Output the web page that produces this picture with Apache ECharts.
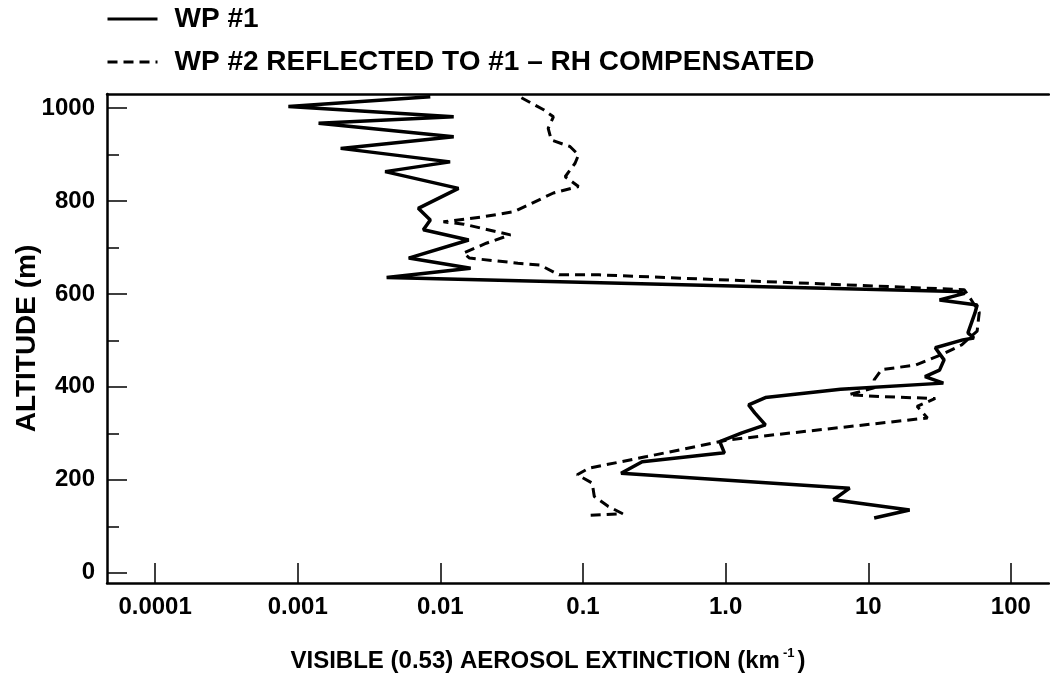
<!DOCTYPE html>
<html>
<head>
<meta charset="utf-8">
<script src="https://cdn.jsdelivr.net/npm/echarts@6/dist/echarts.min.js"></script>
<style>
html, body { margin: 0; padding: 0; background: #fff; }
#chart { width: 1050px; height: 675px; }
</style>
</head>
<body>
<div id="chart"></div>
<script>
// WP #1 profile, read from top to bottom (altitude m, extinction km^-1)
const wp1Alt = [1024, 1003, 981, 967, 938, 913, 884, 863, 827, 784, 759, 738, 716, 677, 655, 635,
    605, 601, 587, 576, 559, 516, 505, 501, 484, 458, 436, 422, 408, 395, 377, 361, 344, 318, 301,
    282, 258, 239, 214, 182, 157, 135, 118]
const wp1Ext = [0.0085, 0.00086, 0.0124, 0.0014, 0.0124, 0.0020, 0.0117, 0.0041, 0.0134, 0.0070, 0.0085, 0.0076, 0.0158, 0.0060, 0.0163, 0.0042,
    42, 47.5, 31.6, 58, 56, 50, 55, 46, 29.5, 34, 31.6, 25, 33.6, 6.4, 1.9, 1.45, 1.6, 1.9, 1.3,
    0.91, 0.98, 0.26, 0.185, 7.4, 5.7, 19.5, 11]

// WP #2 reflected to #1, RH compensated
const wp2Alt = [1022, 996, 981, 956, 931, 917, 899, 881, 852, 831, 817, 777, 766, 755, 750, 727, 709, 688, 677, 666, 662, 641, 641,
    609, 590, 560, 520, 490, 470, 447, 437, 415, 398, 383, 379, 375, 358, 333,
    286, 250, 225, 211, 193, 164, 143, 127, 123]
const wp2Ext = [0.037, 0.053, 0.062, 0.057, 0.060, 0.081, 0.093, 0.088, 0.075, 0.093, 0.062, 0.033, 0.020, 0.0105, 0.0146, 0.031, 0.021, 0.0145, 0.016, 0.035, 0.050, 0.068, 0.13,
    47, 52, 60, 58, 45, 33, 21.6, 12.4, 11, 11, 7.3, 12, 29.5, 22, 26,
    1.05, 0.28, 0.11, 0.091, 0.116, 0.12, 0.15, 0.19, 0.104]

const xTickValues = [0.0001, 0.001, 0.01, 0.1, 1, 10, 100]
const xTickLabels = ['0.0001', '0.001', '0.01', '0.1', '1.0', '10', '100']
const yTickValues = [0, 200, 400, 600, 800, 1000]
const yMinorTicks = [100, 300, 500, 700, 900]

const font = 'Liberation Sans'
const yMin = -22
const yMax = 1030
const xMin = 0.000046
const xMax = 185

const chart = echarts.init(document.getElementById('chart'))

const xLabel = v => {
    for (let i = 0; i < xTickValues.length; i++) {
        if (Math.abs(Math.log10(v) - Math.log10(xTickValues[i])) < 1e-6) return xTickLabels[i]
    }
    return ''
}

const option = {
    animation: false,
    backgroundColor: '#fff',
    legend: {
        orient: 'vertical',
        left: 101,
        top: 3,
        padding: [2, 5],
        itemWidth: 50,
        itemHeight: 14,
        itemGap: 15,
        itemStyle: { opacity: 0 },
        lineStyle: { width: 3 },
        textStyle: { fontFamily: font, fontWeight: 'bold', fontSize: 28, color: '#000', padding: [0, 0, 0, 12] },
        data: ['WP #1', 'WP #2 REFLECTED TO #1 \u2013 RH COMPENSATED']
    },
    grid: { left: 107, right: 1, top: 94, bottom: 92, outerBoundsMode: 'none' },
    xAxis: [
        {
            type: 'log',
            logBase: 10,
            min: xMin,
            max: xMax,
            axisLine: { onZero: false, lineStyle: { color: '#000', width: 2.5 } },
            axisTick: { inside: true, length: 20, lineStyle: { color: '#000', width: 1.5 } },
            axisLabel: {
                formatter: xLabel, color: '#000', fontFamily: font, fontWeight: 'bold', fontSize: 24, margin: 12,
                showMinLabel: false, showMaxLabel: false
            },
            splitLine: { show: false },
            minorTick: { show: false },
            name: '{t|VISIBLE (0.53) AEROSOL EXTINCTION (km}{s|-1}{t|)}',
            nameLocation: 'middle',
            nameGap: 64,
            nameTextStyle: {
                padding: [0, 60, 0, 0],
                rich: {
                    t: { fontFamily: font, fontWeight: 'bold', fontSize: 24, color: '#000' },
                    s: { fontFamily: font, fontWeight: 'bold', fontSize: 13, color: '#000', padding: [0, 3, 16, 3] }
                }
            }
        },
        {
            type: 'log',
            position: 'top',
            min: xMin,
            max: xMax,
            axisLine: { onZero: false, lineStyle: { color: '#000', width: 2.5 } },
            axisTick: { show: false },
            axisLabel: { show: false },
            splitLine: { show: false }
        }
    ],
    yAxis: [
        {
            type: 'value',
            min: yMin,
            max: yMax,
            axisLine: { onZero: false, lineStyle: { color: '#000', width: 2.5 } },
            axisTick: { inside: true, length: 20, customValues: yTickValues, lineStyle: { color: '#000', width: 1.5 } },
            axisLabel: {
                customValues: yTickValues,
                formatter: v => String(v),
                color: '#000', fontFamily: font, fontWeight: 'bold', fontSize: 24, margin: 12
            },
            splitLine: { show: false },
            name: 'ALTITUDE (m)',
            nameLocation: 'middle',
            nameGap: 66,
            nameMoveOverlap: false,
            nameTextStyle: { fontFamily: font, fontWeight: 'bold', fontSize: 28, color: '#000' }
        },
        {
            // minor ticks every 100 m
            type: 'value',
            position: 'left',
            min: yMin,
            max: yMax,
            axisLine: { show: false, onZero: false },
            axisTick: { inside: true, length: 12, customValues: yMinorTicks, lineStyle: { color: '#000', width: 1.5 } },
            axisLabel: { show: false },
            splitLine: { show: false }
        }
    ],
    series: [
        {
            name: 'WP #1',
            type: 'line',
            xAxisIndex: 0,
            yAxisIndex: 0,
            symbol: 'none',
            color: '#000',
            lineStyle: { color: '#000', width: 3.5 },
            data: wp1Alt.map((a, i) => [wp1Ext[i], a])
        },
        {
            name: 'WP #2 REFLECTED TO #1 \u2013 RH COMPENSATED',
            type: 'line',
            xAxisIndex: 0,
            yAxisIndex: 0,
            symbol: 'none',
            color: '#000',
            lineStyle: { color: '#000', width: 3, type: [10, 6] },
            data: wp2Alt.map((a, i) => [wp2Ext[i], a])
        }
    ]
}

chart.setOption(option)
</script>
</body>
</html>
